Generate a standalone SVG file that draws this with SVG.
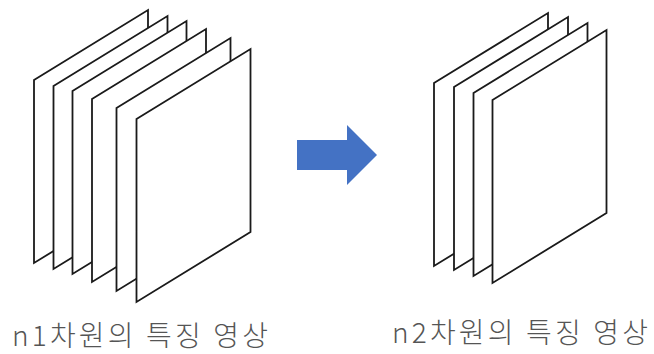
<svg xmlns="http://www.w3.org/2000/svg" width="654" height="354" viewBox="0 0 654 354">
  <style>
    .sheet { fill: #ffffff; stroke: #1a1a1a; stroke-width: 1.8; stroke-linejoin: miter; }
    .label { font-family: "Noto Sans CJK KR", "Noto Sans", sans-serif; font-size: 28px; font-weight: 300; fill: #555555; }
    .arrow { fill: #4472C4; }
  </style>
  <defs>
    <!-- one feature-map sheet: parallelogram with its top-left corner at the origin -->
    <path id="sheet" class="sheet" d="M0,0 L114,-70 L114,113 L0,183 Z"/>
  </defs>

  <!-- n1 feature maps (back to front) -->
  <g id="stack-n1">
    <use href="#sheet" x="34" y="80"/>
    <use href="#sheet" x="53.5" y="86"/>
    <use href="#sheet" x="72.5" y="91"/>
    <use href="#sheet" x="92" y="99"/>
    <use href="#sheet" x="116.5" y="108"/>
    <use href="#sheet" x="136.5" y="119"/>
  </g>

  <!-- n2 feature maps (back to front) -->
  <g id="stack-n2">
    <use href="#sheet" x="434" y="83"/>
    <use href="#sheet" x="454" y="87"/>
    <use href="#sheet" x="473.5" y="93"/>
    <use href="#sheet" x="492.5" y="100"/>
  </g>

  <!-- transformation arrow -->
  <g id="connectors">
    <polygon class="arrow" points="297,140 347,140 347,125 377,155 347,185 347,170 297,170"/>
  </g>

  <g id="label-n1">
    <text class="label" x="12" y="346" textLength="256" lengthAdjust="spacing">n1차원의 특징 영상</text>
  </g>
  <g id="label-n2">
    <text class="label" x="392" y="343" textLength="256" lengthAdjust="spacing">n2차원의 특징 영상</text>
  </g>
</svg>
